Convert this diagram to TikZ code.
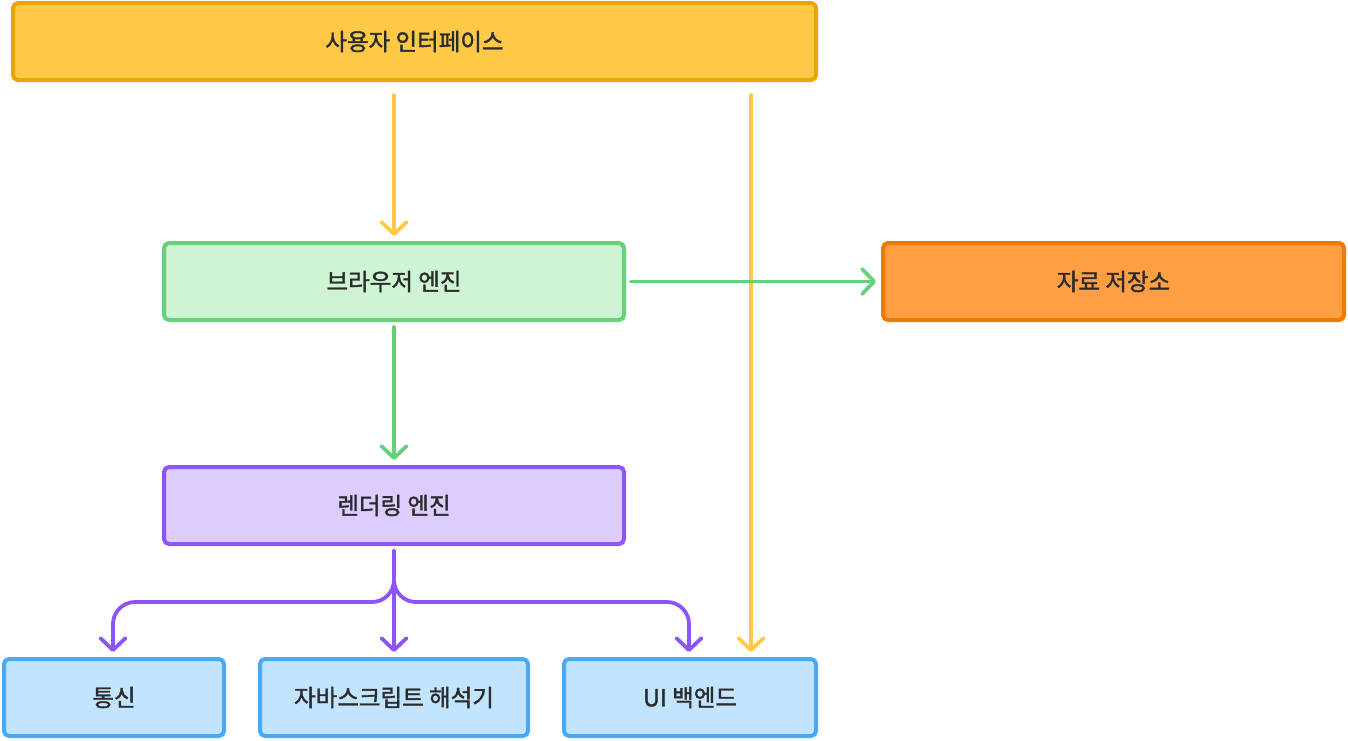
\documentclass[tikz,border=0pt]{standalone}
\usepackage{fontspec}
\setmainfont{Noto Sans CJK KR}[AutoFakeBold=1.5]
\usetikzlibrary{arrows.meta}
\definecolor{uiFill}{HTML}{FFC947}
\definecolor{uiDraw}{HTML}{E8A606}
\definecolor{brFill}{HTML}{CDF5D3}
\definecolor{brDraw}{HTML}{66D17A}
\definecolor{stFill}{HTML}{FF9F43}
\definecolor{stDraw}{HTML}{EE7A00}
\definecolor{reFill}{HTML}{DDCCFF}
\definecolor{reDraw}{HTML}{8C55F7}
\definecolor{boFill}{HTML}{C2E4FF}
\definecolor{boDraw}{HTML}{45AAF7}
\definecolor{yArrow}{HTML}{FFC940}
\definecolor{txt}{HTML}{2B2B2B}
\begin{document}
\begin{tikzpicture}[x=1pt,y=-1pt,
  box/.style={rectangle,rounded corners=5pt,line width=4pt,inner sep=0pt,
    minimum height=77pt,text=txt,font=\fontsize{23.5}{27}\selectfont\bfseries},
  conn/.style={line width=3.8pt,line cap=round,
    -{Straight Barb[length=12pt,width=25pt,line cap=round,line join=round]}},
]
\useasboundingbox (0,0) rectangle (1348,740);
\node[box,fill=uiFill,draw=uiDraw,minimum width=803pt] (ui) at (414.5,41.5) {사용자 인터페이스};
\node[box,fill=brFill,draw=brDraw,minimum width=460pt] (browser) at (394,281.5) {브라우저 엔진};
\node[box,fill=stFill,draw=stDraw,minimum width=461pt] (storage) at (1113.5,281.5) {자료 저장소};
\node[box,fill=reFill,draw=reDraw,minimum width=460pt] (render) at (394,505.5) {렌더링 엔진};
\node[box,fill=boFill,draw=boDraw,minimum width=220pt] (net) at (114,697.5) {통신};
\node[box,fill=boFill,draw=boDraw,minimum width=268pt] (js) at (394,697.5) {자바스크립트 해석기};
\node[box,fill=boFill,draw=boDraw,minimum width=252pt] (uib) at (690,697.5) {UI 백엔드};
\coordinate (yx) at (751,0);
\coordinate (lx) at (113,0);
\coordinate (rx) at (689,0);
\coordinate (hy) at (0,602);
% yellow arrows
\draw[conn,yArrow,shorten <=13pt,shorten >=5pt] (browser.north |- ui.south) -- (browser.north);
\draw[conn,yArrow,shorten <=13pt,shorten >=5pt] (yx |- ui.south) -- (yx |- uib.north);
% green arrows
\draw[conn,brDraw,shorten <=5pt,shorten >=5pt] (browser.east) -- (storage.west);
\draw[conn,brDraw,shorten <=5pt,shorten >=5pt] (browser.south) -- (render.north);
% purple arrows
\draw[conn,reDraw,shorten <=5pt,shorten >=5pt] (render.south) -- (js.north);
\draw[conn,reDraw,rounded corners=22pt,shorten <=5pt,shorten >=5pt] (render.south) -- (render.south |- hy) -- (lx |- hy) -- (lx |- net.north);
\draw[conn,reDraw,rounded corners=22pt,shorten <=5pt,shorten >=5pt] (render.south) -- (render.south |- hy) -- (rx |- hy) -- (rx |- uib.north);
\end{tikzpicture}
\end{document}
